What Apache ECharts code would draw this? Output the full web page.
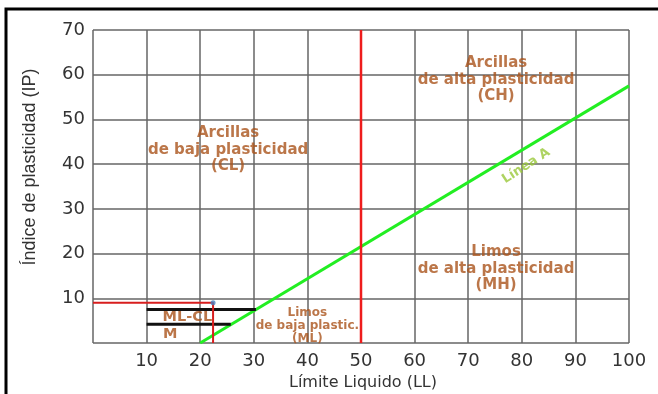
<!DOCTYPE html>
<html><head><meta charset="utf-8">
<script src="https://cdn.jsdelivr.net/npm/echarts@6/dist/echarts.min.js"></script>
<style>html,body{margin:0;padding:0;background:#fff}#c{width:658px;height:394px}</style>
</head><body><div id="c"></div>
<script>
// Axis ticks
const xTicks = [0,10,20,30,40,50,60,70,80,90,100];
const yTicks = [0,10,20,30,40,50,60,70];
// Line A (IP vs LL)
const lineA = [[20,0],[100,57.5]];
// LL = 50 boundary
const ll50 = [[50,0],[50,70]];
// sample point (LL, IP)
const samplePoint = [22.4, 9];
// ML-CL band limits
const mlclUpper = [[10,7.5],[30.4,7.5]];
const mlclLower = [[10,4.2],[25.7,4.2]];
// zone labels: [LL, IP, text]
const zoneLabels = [
  [75.2, 58.8, 'Arcillas\nde alta plasticidad\n(CH)'],
  [25.2, 43.2, 'Arcillas\nde baja plasticidad\n(CL)'],
  [75.2, 16.6, 'Limos\nde alta plasticidad\n(MH)'],
  [40.0, 3.9, 'Limos\nde baja plastic.\n(ML)']
];
const smallLabels = [[17.6, 5.8, 'ML-CL'], [14.4, 2.0, 'M']];
const lineALabel = [80.8, 39.6, 'Línea A'];

const brown = '#aa541c';
const chart = echarts.init(document.getElementById('c'));
chart.setOption({
  animation: false,
  grid: {left: 93, right: 29, top: 30, bottom: 51, containLabel: false, outerBoundsMode: 'none'},
  xAxis: {
    type: 'value', min: xTicks[0], max: xTicks[xTicks.length-1], interval: 10,
    axisLine: {show: false}, axisTick: {show: false},
    splitLine: {show: true, lineStyle: {color: '#666', width: 1.5}},
    axisLabel: {color: '#333', fontFamily: 'DejaVu Sans', fontSize: 18, margin: 9,
      formatter: v => v === 0 ? '' : String(v)},
    name: 'Límite Liquido (LL)', nameLocation: 'middle', nameGap: 32,
    nameTextStyle: {color: '#333', fontFamily: 'DejaVu Sans', fontSize: 16, padding: [0,0,0,4]}
  },
  yAxis: {
    type: 'value', min: yTicks[0], max: yTicks[yTicks.length-1], interval: 10,
    axisLine: {show: false}, axisTick: {show: false},
    splitLine: {show: true, lineStyle: {color: '#666', width: 1.5}},
    axisLabel: {color: '#333', fontFamily: 'DejaVu Sans', fontSize: 18, margin: 8,
      formatter: v => v === 0 ? '' : String(v)}
  },
  graphic: [
    {type: 'polyline', shape: {points: [[6,394],[6,9],[658,9]]}, style: {stroke: '#000', lineWidth: 3, fill: null}, z: 10},
    {type: 'text', x: 30, y: 167, rotation: Math.PI/2, style: {text: 'Índice de plasticidad (IP)', fill: '#333', font: '18px "Liberation Sans"', textAlign: 'center', textVerticalAlign: 'middle'}}
  ],
  series: [
    {type: 'line', data: lineA, symbol: 'none', lineStyle: {color: '#22ee22', width: 3}, z: 3},
    {type: 'line', data: ll50, symbol: 'none', lineStyle: {color: '#ee1c1c', width: 2.5}, z: 3},
    {type: 'line', data: [[0, samplePoint[1]], samplePoint, [samplePoint[0], 0]], symbol: 'none', lineStyle: {color: '#d81e1e', width: 2}, z: 4},
    {type: 'line', data: mlclUpper, symbol: 'none', lineStyle: {color: '#111', width: 3}, z: 3},
    {type: 'line', data: mlclLower, symbol: 'none', lineStyle: {color: '#111', width: 3}, z: 3},
    {type: 'scatter', data: [samplePoint], symbolSize: 5, itemStyle: {color: '#4a7fc0'}, z: 5},
    {type: 'scatter', symbolSize: 0, z: 6,
      data: zoneLabels.slice(0,3).map(d => ({value: [d[0], d[1]], label: {formatter: d[2]}})),
      label: {show: true, position: 'inside', color: brown, fontFamily: 'DejaVu Sans', fontWeight: 'bold', fontSize: 15, lineHeight: 16.5, align: 'center'}},
    {type: 'scatter', symbolSize: 0, z: 6,
      data: zoneLabels.slice(3).map(d => ({value: [d[0], d[1]], label: {formatter: d[2]}})),
      label: {show: true, position: 'inside', color: brown, fontFamily: 'DejaVu Sans', fontWeight: 'bold', fontSize: 12, lineHeight: 13, align: 'center'}},
    {type: 'scatter', symbolSize: 0, z: 6,
      data: smallLabels.map(d => ({value: [d[0], d[1]], label: {formatter: d[2]}})),
      label: {show: true, position: 'inside', color: brown, fontFamily: 'DejaVu Sans', fontWeight: 'bold', fontSize: 14.5, align: 'center'}},
    {type: 'scatter', symbolSize: 0, z: 6,
      data: [{value: [lineALabel[0], lineALabel[1]], label: {formatter: lineALabel[2]}}],
      label: {show: true, position: 'inside', rotate: 33, color: '#9ac83a', fontFamily: 'DejaVu Sans', fontWeight: 'bold', fontSize: 13}}
  ]
});
</script></body></html>
